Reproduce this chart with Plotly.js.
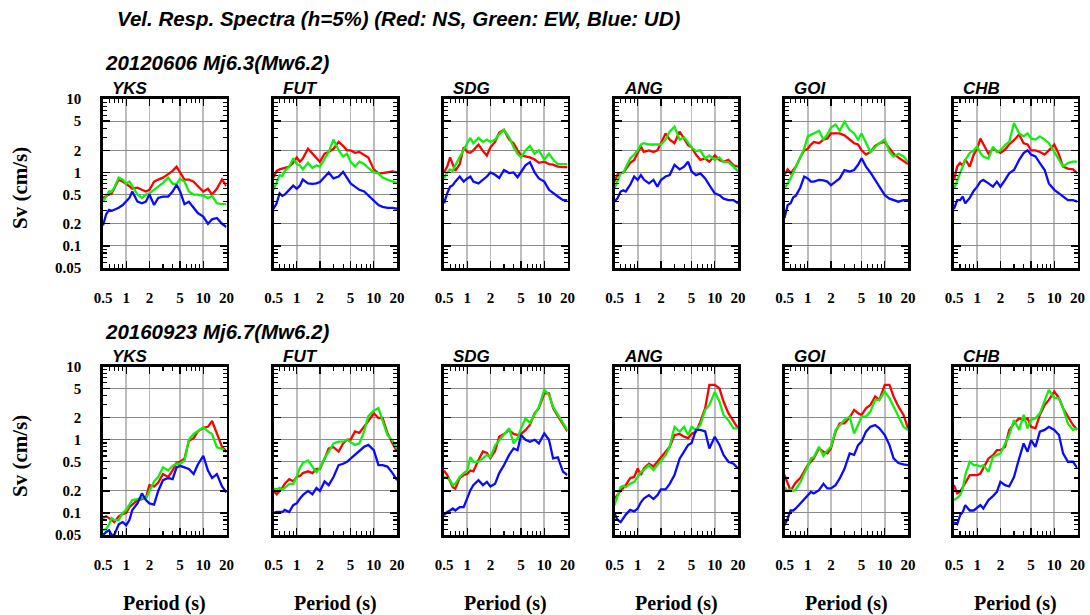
<!DOCTYPE html>
<html>
<head>
<meta charset="utf-8">
<script src="https://cdn.plot.ly/plotly-3.0.1.min.js"></script>
<style>html,body{margin:0;padding:0;background:#fff;}#chart{width:1090px;height:615px;}</style>
</head>
<body>
<div id="chart"></div>
<script>
// ---------------- DATA ----------------
const periods = [0.5,0.55,0.6,0.65,0.7,0.8,0.9,1,1.1,1.2,1.4,1.6,1.8,2,2.3,2.6,3,3.5,4,4.5,5,5.7,6.5,7.5,8.5,10,11.5,13,15,17.5,20];
const stations = ['YKS','FUT','SDG','ANG','GOI','CHB'];
const events = ['20120606 Mj6.3(Mw6.2)','20160923 Mj6.7(Mw6.2)'];
const mainTitle = 'Vel. Resp. Spectra (h=5%) (Red: NS, Green: EW, Blue: UD)';
const xTickVals = [0.5,1,2,5,10,20];
const xTickText = ['0.5','1','2','5','10','20'];
const yTickVals = [0.05,0.1,0.2,0.5,1,2,5,10];
const yTickText = ['0.05','0.1','0.2','0.5','1','2','5','10'];
const xMinorVals = [0.6,0.7,0.8,0.9,3,4,6,7,8,9];
const yMinorVals = [0.06,0.07,0.08,0.09,0.3,0.4,0.6,0.7,0.8,0.9,3,4,6,7,8,9];

// Event 1: 20120606
const e1_YKS_NS = [0.45,0.48,0.5,0.52,0.6,0.8,0.75,0.7,0.65,0.6,0.62,0.58,0.55,0.58,0.75,0.8,0.85,0.95,1.05,1.2,1.0,0.8,0.8,0.75,0.65,0.55,0.6,0.5,0.6,0.8,0.65];
const e1_YKS_EW = [0.4,0.48,0.55,0.55,0.62,0.85,0.8,0.7,0.75,0.65,0.5,0.45,0.5,0.52,0.58,0.65,0.72,0.85,0.7,0.7,0.82,0.75,0.55,0.5,0.5,0.48,0.45,0.48,0.38,0.37,0.37];
const e1_YKS_UD = [0.19,0.27,0.31,0.3,0.31,0.33,0.36,0.4,0.45,0.55,0.4,0.38,0.4,0.5,0.36,0.45,0.47,0.47,0.55,0.68,0.55,0.37,0.4,0.33,0.28,0.25,0.2,0.23,0.24,0.2,0.18];

const e1_FUT_NS = [0.85,1.05,1.1,1.12,1.15,1.2,1.35,1.6,1.4,1.55,2.1,1.8,1.6,1.4,1.8,1.9,2.1,2.6,2.3,2.0,2.0,1.85,1.9,1.75,1.6,1.1,0.97,0.98,1.0,1.03,1.0];
const e1_FUT_EW = [0.58,0.75,0.92,0.9,1.05,1.2,1.55,1.3,1.25,1.1,1.35,1.15,1.25,1.2,1.5,1.9,2.8,2.0,1.65,1.8,1.4,1.2,1.4,1.3,1.15,1.0,0.97,0.85,0.8,0.75,0.72];
const e1_FUT_UD = [0.32,0.38,0.52,0.48,0.5,0.58,0.66,0.6,0.66,0.8,0.71,0.7,0.71,0.74,0.88,1.0,0.83,0.88,1.02,0.85,0.71,0.64,0.58,0.55,0.49,0.42,0.36,0.34,0.33,0.33,0.32];

const e1_SDG_NS = [1.0,1.2,1.6,1.25,1.05,1.3,2.2,1.9,1.85,2.0,2.4,1.95,1.7,2.2,2.6,3.5,3.8,2.8,2.5,2.0,1.7,1.65,1.6,1.5,1.35,1.4,1.3,1.28,1.2,1.18,1.18];
const e1_SDG_EW = [0.83,1.0,1.1,1.05,1.25,1.65,2.0,2.5,2.95,2.5,2.95,2.6,2.8,2.6,2.8,3.3,3.8,3.0,2.2,1.8,1.6,2.0,2.3,1.8,2.0,1.5,1.8,1.5,1.3,1.3,1.3];
const e1_SDG_UD = [0.38,0.52,0.64,0.67,0.75,0.88,0.75,0.83,0.88,0.75,0.71,0.8,0.88,1.0,0.93,0.84,1.08,0.98,1.0,0.86,1.0,1.25,1.38,1.0,0.83,0.75,0.58,0.52,0.47,0.42,0.42];

const e1_ANG_NS = [0.75,0.95,0.98,1.0,1.1,1.35,1.48,1.8,2.25,1.9,2.0,1.9,2.0,2.5,3.4,2.8,2.5,3.6,2.8,2.35,2.2,1.75,1.48,1.55,1.4,1.7,1.48,1.4,1.48,1.25,1.2];
const e1_ANG_EW = [0.6,0.78,0.98,1.0,1.15,1.55,1.75,2.0,2.4,2.5,2.4,2.4,2.4,2.4,2.8,3.6,4.2,2.8,3.0,2.5,2.2,1.95,2.0,1.55,1.7,1.48,1.6,1.38,1.38,1.2,1.03];
const e1_ANG_UD = [0.4,0.45,0.55,0.57,0.55,0.68,0.88,0.79,0.92,0.8,0.71,0.79,0.64,0.79,0.88,0.92,1.27,1.1,1.2,1.4,1.03,0.92,0.97,0.83,0.67,0.52,0.49,0.44,0.42,0.42,0.38];

const e1_GOI_NS = [0.93,1.1,0.97,1.1,1.2,1.6,2.0,2.1,2.4,2.6,2.5,2.8,2.9,3.4,3.4,3.4,3.2,2.8,2.5,2.4,2.0,1.75,1.9,2.3,2.5,2.6,2.1,1.8,1.6,1.45,1.3];
const e1_GOI_EW = [0.6,0.7,0.83,1.0,1.2,1.6,2.1,3.1,3.3,3.4,3.7,2.8,3.3,4.1,4.5,3.7,4.9,3.8,3.4,2.8,3.4,2.6,1.9,2.2,2.5,2.8,1.9,1.65,1.8,1.65,1.4];
const e1_GOI_UD = [0.24,0.36,0.38,0.46,0.48,0.62,0.88,0.83,0.75,0.75,0.79,0.78,0.75,0.67,0.75,0.83,1.08,1.03,1.08,1.27,1.56,1.2,1.0,0.79,0.63,0.49,0.44,0.42,0.4,0.42,0.42];

const e1_CHB_NS = [0.79,1.2,1.35,1.25,1.5,1.2,1.75,2.1,2.9,2.4,1.8,2.1,1.95,1.85,2.05,2.4,2.75,3.3,2.5,2.4,2.0,2.0,1.9,1.75,2.0,2.4,1.75,1.2,1.13,1.1,0.97];
const e1_CHB_EW = [0.6,0.79,0.97,1.2,1.48,1.83,2.0,2.25,1.83,1.65,1.55,2.25,1.9,2.0,2.35,2.6,4.7,3.4,3.1,3.4,2.9,2.8,3.1,2.8,2.5,1.9,1.5,1.2,1.34,1.4,1.4];
const e1_CHB_UD = [0.32,0.42,0.42,0.47,0.38,0.45,0.56,0.64,0.75,0.79,0.71,0.64,0.75,0.64,0.79,0.97,1.08,1.48,1.83,2.0,1.75,1.65,1.34,1.08,0.71,0.58,0.52,0.47,0.42,0.42,0.4];

// Event 2: 20160923
const e2_YKS_NS = [0.085,0.09,0.085,0.08,0.075,0.09,0.097,0.1,0.12,0.13,0.15,0.155,0.16,0.24,0.23,0.26,0.34,0.31,0.38,0.49,0.5,0.55,0.97,1.05,1.3,1.45,1.5,1.8,1.2,0.8,0.7];
const e2_YKS_EW = [0.058,0.06,0.07,0.085,0.08,0.08,0.1,0.11,0.13,0.15,0.155,0.16,0.155,0.2,0.27,0.31,0.42,0.38,0.44,0.47,0.47,0.52,1.0,1.2,1.3,1.47,1.3,1.2,0.79,0.75,0.68];
const e2_YKS_UD = [0.05,0.055,0.058,0.05,0.05,0.07,0.075,0.068,0.08,0.11,0.135,0.185,0.15,0.135,0.13,0.2,0.28,0.3,0.29,0.42,0.44,0.42,0.4,0.34,0.46,0.6,0.38,0.3,0.34,0.23,0.19];

const e2_FUT_NS = [0.2,0.18,0.2,0.22,0.25,0.29,0.27,0.31,0.32,0.35,0.37,0.35,0.4,0.4,0.55,0.76,0.79,0.69,0.89,1.0,1.0,1.3,1.24,1.5,1.8,2.3,1.98,1.98,1.24,0.89,0.69];
const e2_FUT_EW = [0.215,0.21,0.22,0.21,0.22,0.25,0.25,0.31,0.41,0.48,0.52,0.43,0.36,0.41,0.56,0.69,0.89,0.94,0.94,1.0,0.94,0.85,0.89,1.3,2.1,2.5,2.7,1.85,1.16,0.98,0.76];
const e2_FUT_UD = [0.1,0.103,0.103,0.103,0.11,0.103,0.128,0.135,0.157,0.175,0.2,0.18,0.22,0.2,0.27,0.24,0.31,0.45,0.47,0.5,0.55,0.62,0.69,0.8,0.85,0.72,0.45,0.45,0.43,0.35,0.28];

const e2_SDG_NS = [0.38,0.33,0.27,0.225,0.215,0.3,0.33,0.34,0.38,0.37,0.53,0.69,0.66,0.56,0.7,1.1,1.2,1.35,1.2,1.16,1.2,1.35,1.59,2.3,2.7,4.3,4.3,2.7,2.1,1.6,1.3];
const e2_SDG_EW = [0.31,0.3,0.28,0.24,0.25,0.31,0.35,0.38,0.58,0.5,0.5,0.56,0.62,0.58,0.83,0.98,1.16,1.43,0.89,1.05,1.43,1.96,1.7,2.18,2.8,4.8,4.1,2.8,2.2,1.7,1.35];
const e2_SDG_UD = [0.093,0.103,0.108,0.115,0.108,0.12,0.12,0.157,0.205,0.24,0.28,0.24,0.266,0.23,0.25,0.35,0.45,0.62,0.76,0.72,1.16,1.0,0.94,1.0,0.89,1.22,1.0,0.555,0.575,0.365,0.33];

const e2_ANG_NS = [0.157,0.175,0.2,0.22,0.24,0.3,0.31,0.405,0.33,0.405,0.47,0.43,0.5,0.555,0.685,0.8,1.16,1.2,1.1,1.05,1.2,1.29,1.76,2.7,5.6,5.6,5.0,3.3,2.3,1.76,1.43];
const e2_ANG_EW = [0.128,0.175,0.225,0.235,0.225,0.25,0.266,0.31,0.365,0.385,0.45,0.385,0.45,0.5,0.616,0.8,1.5,1.29,1.5,1.16,1.5,1.36,1.59,2.55,2.98,4.5,3.31,2.18,1.85,1.43,1.43];
const e2_ANG_UD = [0.098,0.08,0.075,0.085,0.095,0.11,0.105,0.115,0.14,0.157,0.175,0.155,0.175,0.21,0.21,0.25,0.33,0.55,0.685,0.845,0.9,1.36,1.36,1.3,0.76,1.1,0.85,0.62,0.5,0.47,0.405];

const e2_GOI_NS = [0.33,0.26,0.2,0.23,0.26,0.3,0.38,0.45,0.5,0.555,0.76,0.685,0.65,0.76,1.29,1.67,1.67,2.02,2.55,2.3,2.18,2.69,2.98,3.9,3.5,5.6,5.6,3.9,2.85,2.18,1.43];
const e2_GOI_EW = [0.227,0.2,0.21,0.2,0.21,0.26,0.345,0.43,0.555,0.58,0.8,0.6,0.72,0.8,1.36,1.59,1.86,2.07,1.22,1.59,2.07,2.07,2.42,3.5,3.5,4.54,3.7,2.85,2.07,1.5,1.36];
const e2_GOI_UD = [0.068,0.084,0.108,0.108,0.115,0.135,0.157,0.175,0.194,0.185,0.205,0.25,0.216,0.216,0.24,0.296,0.4,0.65,0.62,0.845,0.94,1.29,1.5,1.59,1.43,1.16,0.845,0.555,0.48,0.46,0.45];

const e2_CHB_NS = [0.24,0.185,0.194,0.226,0.266,0.328,0.328,0.328,0.345,0.405,0.555,0.616,0.72,0.72,0.8,1.36,1.67,1.96,1.86,1.96,1.5,1.43,2.18,2.98,3.5,4.54,3.7,2.69,2.07,1.59,1.36];
const e2_CHB_EW = [0.15,0.16,0.175,0.216,0.33,0.5,0.45,0.45,0.43,0.45,0.365,0.585,0.616,0.65,0.89,1.16,1.86,1.36,2.18,1.43,1.86,1.96,2.29,3.5,4.8,3.7,3.7,2.69,1.67,1.36,1.43];
const e2_CHB_UD = [0.075,0.07,0.093,0.103,0.128,0.108,0.108,0.12,0.128,0.115,0.15,0.17,0.194,0.266,0.24,0.23,0.31,0.555,0.89,0.685,0.99,0.8,1.29,1.36,1.5,1.36,1.16,0.65,0.5,0.5,0.405];

const seriesData = [
  [[e1_YKS_NS,e1_YKS_EW,e1_YKS_UD],[e1_FUT_NS,e1_FUT_EW,e1_FUT_UD],[e1_SDG_NS,e1_SDG_EW,e1_SDG_UD],
   [e1_ANG_NS,e1_ANG_EW,e1_ANG_UD],[e1_GOI_NS,e1_GOI_EW,e1_GOI_UD],[e1_CHB_NS,e1_CHB_EW,e1_CHB_UD]],
  [[e2_YKS_NS,e2_YKS_EW,e2_YKS_UD],[e2_FUT_NS,e2_FUT_EW,e2_FUT_UD],[e2_SDG_NS,e2_SDG_EW,e2_SDG_UD],
   [e2_ANG_NS,e2_ANG_EW,e2_ANG_UD],[e2_GOI_NS,e2_GOI_EW,e2_GOI_UD],[e2_CHB_NS,e2_CHB_EW,e2_CHB_UD]]
];
const compNames = ['NS','EW','UD'];
const compColors = ['#ff0000','#10ee10','#0a0aff'];

// ---------------- LAYOUT ----------------
const W = 1090, H = 615;
const px = v => v / W;
const py = v => 1 - v / H;
const colLeft = [103, 273.5, 444, 614.5, 784.5, 954];
const colWidth = 123.5;
const rowTop = [99, 366.5];
const rowBottom = [268, 535];

const serif = 'Liberation Serif, Times New Roman, serif';
const sans = 'Liberation Sans, Arial, sans-serif';

const traces = [];
const layout = {
  width: W, height: H,
  margin: {l: 0, r: 0, t: 0, b: 0},
  paper_bgcolor: '#fff', plot_bgcolor: '#fff',
  showlegend: false,
  annotations: []
};

for (let r = 0; r < 2; r++) {
  for (let c = 0; c < 6; c++) {
    const idx = r * 6 + c + 1;
    const xa = 'x' + (idx === 1 ? '' : idx);
    const ya = 'y' + (idx === 1 ? '' : idx);
    for (let k = 0; k < 3; k++) {
      traces.push({
        type: 'scatter', mode: 'lines',
        x: periods, y: seriesData[r][c][k],
        name: stations[c] + ' ' + compNames[k],
        line: {color: compColors[k], width: 2.3},
        xaxis: xa, yaxis: ya, hoverinfo: 'x+y+name'
      });
    }
    const common = {
      type: 'log', showline: true, linecolor: '#000', linewidth: 2.8, mirror: 'allticks',
      ticks: 'inside', tickcolor: '#000', tickwidth: 1.3, ticklen: 7,
      showgrid: true, zeroline: false, fixedrange: true,
      tickfont: {family: serif, size: 15, color: '#000', weight: 'bold'}
    };
    layout['xaxis' + (idx === 1 ? '' : idx)] = Object.assign({}, common, {
      domain: [px(colLeft[c]), px(colLeft[c] + colWidth)],
      anchor: ya,
      range: [Math.log10(0.5), Math.log10(20)],
      tickmode: 'array', tickvals: xTickVals, ticktext: xTickText,
      gridcolor: '#bdbdbd', gridwidth: 1.6,
      ticklabelstandoff: 14,
      minor: {tickmode: 'array', tickvals: xMinorVals, ticks: 'inside', ticklen: 4, tickcolor: '#000', tickwidth: 1.2, showgrid: false}
    });
    layout['yaxis' + (idx === 1 ? '' : idx)] = Object.assign({}, common, {
      domain: [py(rowBottom[r]), py(rowTop[r])],
      anchor: xa,
      range: [Math.log10(0.05), Math.log10(10)],
      tickmode: 'array', tickvals: yTickVals, ticktext: yTickText,
      showticklabels: c === 0,
      gridcolor: '#8a8a8a', gridwidth: 1,
      ticklabelstandoff: 16,
      minor: {tickmode: 'array', tickvals: yMinorVals, ticks: 'inside', ticklen: 4, tickcolor: '#000', tickwidth: 1.2, showgrid: false}
    });
    // station label
    layout.annotations.push({
      xref: 'paper', yref: 'paper', x: px(colLeft[c] + 7), y: py(rowTop[r] - 10.5),
      xanchor: 'left', yanchor: 'middle', showarrow: false,
      text: '<b><i>' + stations[c] + '</i></b>',
      font: {family: sans, size: 17, color: '#000'}
    });
    if (r === 1) {
      layout.annotations.push({
        xref: 'paper', yref: 'paper', x: px(colLeft[c] + colWidth / 2), y: py(603),
        xanchor: 'center', yanchor: 'middle', showarrow: false,
        text: '<b>Period (s)</b>',
        font: {family: serif, size: 20, color: '#000'}
      });
    }
  }
  // event title
  layout.annotations.push({
    xref: 'paper', yref: 'paper', x: px(103), y: py(r === 0 ? 63 : 331),
    xanchor: 'left', yanchor: 'middle', showarrow: false,
    text: '<b><i>' + events[r] + '</i></b>',
    font: {family: sans, size: 20.5, color: '#000'}
  });
  // y axis title
  layout.annotations.push({
    xref: 'paper', yref: 'paper', x: px(20), y: py(r === 0 ? 188 : 456),
    xanchor: 'center', yanchor: 'middle', showarrow: false, textangle: -90,
    text: '<b>Sv (cm/s)</b>',
    font: {family: serif, size: 21, color: '#000'}
  });
}
layout.annotations.push({
  xref: 'paper', yref: 'paper', x: px(115), y: py(19),
  xanchor: 'left', yanchor: 'middle', showarrow: false,
  text: '<b><i>' + mainTitle + '</i></b>',
  font: {family: sans, size: 20.5, color: '#000'}
});

Plotly.newPlot('chart', traces, layout, {staticPlot: true, displayModeBar: false});
</script>
</body>
</html>
